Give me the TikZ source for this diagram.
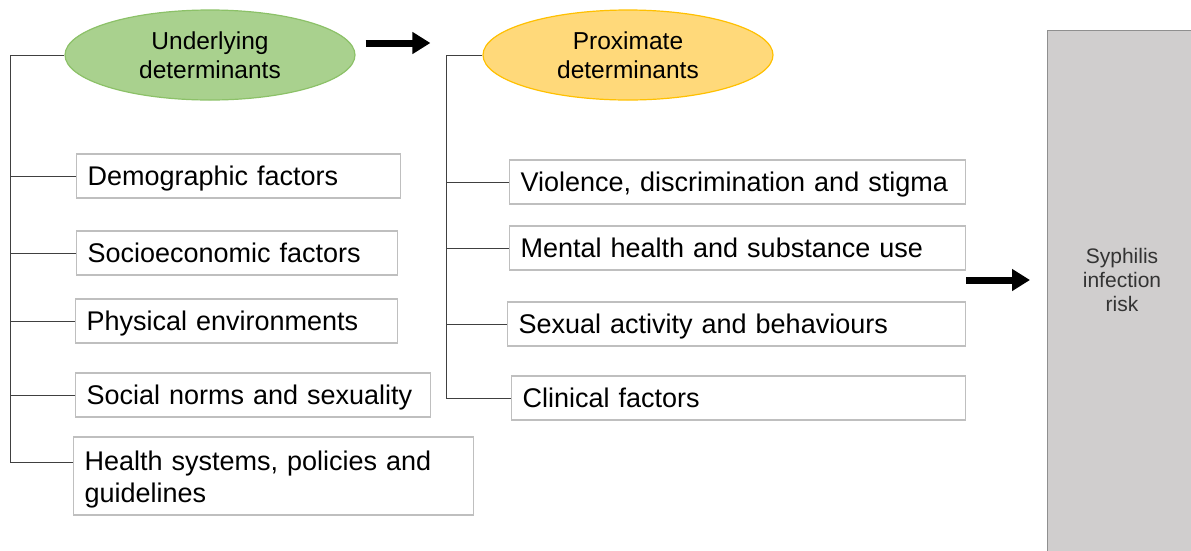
\documentclass[tikz,border=0pt]{standalone}
\usepackage{fontspec}
\setmainfont{Liberation Sans}
\usetikzlibrary{shapes.geometric,arrows.meta}

\definecolor{detgreen}{HTML}{A9D18E}
\definecolor{detgreenline}{HTML}{8CC168}
\definecolor{detorange}{HTML}{FFD97A}
\definecolor{detorangeline}{HTML}{FFC000}
\definecolor{boxgray}{HTML}{BFBFBF}
\definecolor{riskgray}{HTML}{D0CECE}
\definecolor{riskline}{HTML}{8F8F8F}

\tikzset{
  factor/.style={draw=boxgray, line width=1.3pt, fill=white, anchor=west, align=left,
    inner xsep=11pt, inner ysep=0pt, text depth=0pt, font=\fontsize{27}{32}\selectfont},
  detellipse/.style={ellipse, minimum width=290pt, minimum height=90pt, inner sep=0pt,
    line width=1.2pt, align=center, font=\fontsize{24.5}{29}\selectfont},
  fatarrow/.style={line width=7pt, -{Triangle[length=18pt,width=21pt]}},
  bracket/.style={line width=1pt, draw=black!75}
}

\begin{document}
\begin{tikzpicture}[x=1pt,y=-1pt]
\useasboundingbox (0,0) rectangle (1191,550);

% the two groups of determinants
\node[detellipse, fill=detgreen, draw=detgreenline] (udet) at (210,55) {Underlying\\determinants};
\node[detellipse, fill=detorange, draw=detorangeline] (pdet) at (628,55) {Proximate\\determinants};

% underlying factors
\node[factor, text width=302pt, minimum height=44pt] (demo) at (76,176) {Demographic factors};
\node[factor, text width=299pt, minimum height=44pt] (socio) at (76,253) {Socioeconomic factors};
\node[factor, text width=300pt, minimum height=44pt] (phys) at (75,321) {Physical environments};
\node[factor, text width=333pt, minimum height=44pt] (norms) at (75,395) {Social norms and sexuality};
\node[factor, text width=378pt, minimum height=78pt, text depth=31.5pt] (health) at (73,476)
  {Health systems, policies and\\guidelines};

% proximate factors
\node[factor, text width=434pt, minimum height=44pt] (viol) at (509,182) {Violence, discrimination and stigma};
\node[factor, text width=434pt, minimum height=44pt] (mental) at (509,248) {Mental health and substance use};
\node[factor, text width=436pt, minimum height=44pt] (sexual) at (507,324) {Sexual activity and behaviours};
\node[factor, text width=432pt, minimum height=44pt] (clin) at (511,398) {Clinical factors};

% outcome
\node[draw=riskline, fill=riskgray, line width=1.2pt, minimum width=170pt, minimum height=560pt,
  anchor=north west] (risk) at (1047,30) {};
\node[font=\fontsize{21}{24}\selectfont, align=center, text=black!80] (risklabel) at (1122,280)
  {Syphilis\\infection\\risk};

% brackets
\coordinate (ltop) at (10,55);
\draw[bracket] (udet.west) -- (ltop) |- ([yshift=14pt]health.west);
\foreach \f in {demo,socio,phys,norms}
  \draw[bracket] (ltop |- \f.west) -- (\f.west);

\coordinate (rtop) at (446,55);
\draw[bracket] (pdet.west) -- (rtop) |- (clin.west);
\foreach \f in {viol,mental,sexual}
  \draw[bracket] (rtop |- \f.west) -- (\f.west);

% arrows
\draw[fatarrow, shorten <=10pt, shorten >=52pt] ([yshift=12pt]udet.east) -- ([yshift=12pt]pdet.west);
\draw[fatarrow, shorten >=17pt] (mental.east |- risklabel) -- (risk.west |- risklabel);
\end{tikzpicture}
\end{document}
